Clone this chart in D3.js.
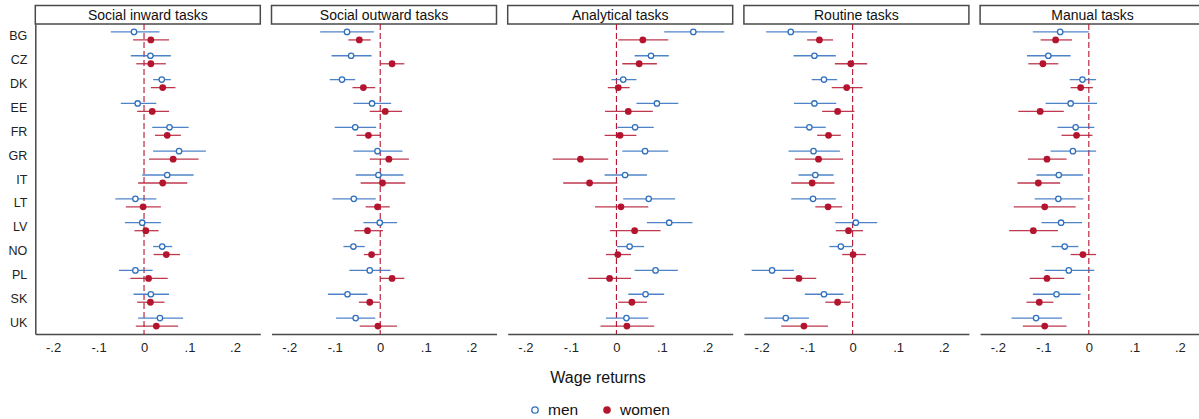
<!DOCTYPE html>
<html>
<head>
<meta charset="utf-8">
<script src="https://cdn.jsdelivr.net/npm/d3@7"></script>
<style>
  html, body { margin: 0; padding: 0; background: #fff; }
  svg { display: block; font-family: "Liberation Sans", Arial, Helvetica, sans-serif; }
</style>
</head>
<body>
<svg id="chart" width="1199" height="419"></svg>
<script>
// Countries (rows) and task panels
const countries = ["BG", "CZ", "DK", "EE", "FR", "GR", "IT", "LT", "LV", "NO", "PL", "SK", "UK"];
const tasks = ["Social inward tasks", "Social outward tasks", "Analytical tasks", "Routine tasks", "Manual tasks"];
const xTicks = [-0.2, -0.1, 0, 0.1, 0.2];
const xTickLabels = ["-.2", "-.1", "0", ".1", ".2"];
const sexes = ["men", "women"];

// Estimates as [coefficient, lower CI, upper CI], one row per country
const socialInwardMen = [
  [-0.022, -0.073, 0.034], [0.014, -0.029, 0.059], [0.039, 0.020, 0.059], [-0.014, -0.051, 0.027],
  [0.056, 0.018, 0.098], [0.077, 0.020, 0.136], [0.051, -0.004, 0.109], [-0.019, -0.063, 0.027],
  [-0.004, -0.042, 0.037], [0.040, 0.020, 0.062], [-0.019, -0.055, 0.019], [0.015, -0.023, 0.055],
  [0.035, -0.013, 0.086]
];
const socialInwardWomen = [
  [0.015, -0.024, 0.055], [0.015, -0.017, 0.048], [0.041, 0.015, 0.069], [0.018, -0.015, 0.055],
  [0.051, 0.024, 0.081], [0.064, 0.011, 0.120], [0.041, -0.013, 0.095], [-0.002, -0.040, 0.037],
  [0.004, -0.021, 0.032], [0.049, 0.021, 0.079], [0.010, -0.030, 0.052], [0.014, -0.015, 0.045],
  [0.027, -0.018, 0.075]
];
const socialOutwardMen = [
  [-0.073, -0.132, -0.014], [-0.064, -0.107, -0.019], [-0.084, -0.111, -0.055], [-0.018, -0.059, 0.024],
  [-0.055, -0.100, -0.009], [-0.006, -0.059, 0.049], [-0.004, -0.054, 0.051], [-0.058, -0.105, -0.010],
  [-0.001, -0.037, 0.037], [-0.059, -0.081, -0.034], [-0.023, -0.068, 0.023], [-0.072, -0.115, -0.028],
  [-0.054, -0.097, -0.011]
];
const socialOutwardWomen = [
  [-0.046, -0.070, -0.021], [0.026, 0.000, 0.053], [-0.037, -0.061, -0.011], [0.011, -0.023, 0.048],
  [-0.026, -0.052, 0.000], [0.019, -0.023, 0.063], [0.005, -0.043, 0.055], [-0.006, -0.032, 0.021],
  [-0.028, -0.057, 0.006], [-0.019, -0.036, -0.001], [0.026, 0.000, 0.053], [-0.023, -0.047, 0.000],
  [-0.005, -0.045, 0.037]
];
const analyticalMen = [
  [0.169, 0.105, 0.237], [0.076, 0.040, 0.115], [0.015, -0.011, 0.044], [0.089, 0.044, 0.136],
  [0.041, 0.002, 0.082], [0.063, 0.013, 0.114], [0.019, -0.026, 0.067], [0.071, 0.015, 0.129],
  [0.116, 0.067, 0.167], [0.029, 0.001, 0.061], [0.086, 0.040, 0.135], [0.064, 0.026, 0.105],
  [0.022, -0.023, 0.070]
];
const analyticalWomen = [
  [0.058, 0.004, 0.114], [0.050, 0.013, 0.089], [0.004, -0.019, 0.029], [0.026, -0.025, 0.080],
  [0.008, -0.026, 0.044], [-0.079, -0.140, -0.018], [-0.059, -0.117, 0.002], [0.010, -0.047, 0.070],
  [0.040, -0.014, 0.097], [0.003, -0.023, 0.032], [-0.015, -0.062, 0.032], [0.034, 0.004, 0.067],
  [0.023, -0.035, 0.083]
];
const routineMen = [
  [-0.136, -0.190, -0.078], [-0.084, -0.130, -0.037], [-0.063, -0.090, -0.034], [-0.084, -0.129, -0.036],
  [-0.095, -0.128, -0.059], [-0.086, -0.141, -0.028], [-0.082, -0.119, -0.042], [-0.087, -0.135, -0.037],
  [0.007, -0.038, 0.054], [-0.026, -0.051, 0.000], [-0.177, -0.222, -0.129], [-0.063, -0.105, -0.020],
  [-0.147, -0.194, -0.096]
];
const routineWomen = [
  [-0.073, -0.100, -0.043], [-0.004, -0.039, 0.032], [-0.013, -0.046, 0.022], [-0.033, -0.067, 0.004],
  [-0.053, -0.078, -0.026], [-0.075, -0.127, -0.021], [-0.089, -0.135, -0.040], [-0.054, -0.082, -0.023],
  [-0.009, -0.037, 0.023], [0.001, -0.023, 0.029], [-0.118, -0.154, -0.080], [-0.033, -0.060, -0.005],
  [-0.107, -0.157, -0.054]
];
const manualMen = [
  [-0.063, -0.123, 0.000], [-0.089, -0.136, -0.040], [-0.014, -0.042, 0.016], [-0.040, -0.095, 0.018],
  [-0.029, -0.069, 0.012], [-0.035, -0.084, 0.016], [-0.066, -0.115, -0.013], [-0.067, -0.119, -0.012],
  [-0.061, -0.104, -0.015], [-0.053, -0.082, -0.023], [-0.044, -0.097, 0.012], [-0.071, -0.123, -0.018],
  [-0.116, -0.170, -0.059]
];
const manualWomen = [
  [-0.073, -0.106, -0.037], [-0.101, -0.133, -0.067], [-0.018, -0.040, 0.009], [-0.107, -0.155, -0.055],
  [-0.027, -0.060, 0.008], [-0.092, -0.134, -0.049], [-0.111, -0.157, -0.063], [-0.097, -0.165, -0.029],
  [-0.122, -0.175, -0.068], [-0.013, -0.040, 0.016], [-0.092, -0.130, -0.054], [-0.109, -0.137, -0.078],
  [-0.097, -0.145, -0.049]
];

const panelSeries = [
  [socialInwardMen, socialInwardWomen],
  [socialOutwardMen, socialOutwardWomen],
  [analyticalMen, analyticalWomen],
  [routineMen, routineWomen],
  [manualMen, manualWomen]
];

// Styling
const blue = "#2f6fbd";
const red = "#b3152f";
const axisColor = "#4a4a4a";

const svg = d3.select("#chart");
svg.append("rect").attr("width", 1199).attr("height", 419).attr("fill", "#fff");

const panelLeft = 35.3, panelStep = 236.2, panelWidth = 225;
const headerTop = 5.5, plotTop = 24, plotBottom = 334;

const y = d3.scalePoint().domain(countries).range([plotTop, plotBottom]).padding(0.5);
const offset = { men: -4, women: 4 };
const colorOf = { men: blue, women: red };

tasks.forEach((task, p) => {
  const left = panelLeft + p * panelStep;
  const x = d3.scaleLinear().domain([-0.239, 0.2556]).range([left, left + panelWidth]);
  const g = svg.append("g");

  // Panel header
  g.append("rect")
    .attr("x", left).attr("y", headerTop)
    .attr("width", panelWidth).attr("height", plotTop - headerTop)
    .attr("fill", "#fff").attr("stroke", axisColor).attr("stroke-width", 1.5);
  g.append("text")
    .attr("x", left + panelWidth / 2).attr("y", (headerTop + plotTop) / 2)
    .attr("dy", "0.35em").attr("text-anchor", "middle")
    .attr("font-size", 14).attr("fill", "#111")
    .text(task);

  // x axis
  const xAxis = d3.axisBottom(x)
    .tickValues(xTicks)
    .tickFormat((d, i) => xTickLabels[i])
    .tickSize(0).tickSizeOuter(0).tickPadding(9);
  const ax = g.append("g").attr("transform", `translate(0,${plotBottom})`).call(xAxis);
  ax.select(".domain").attr("stroke", axisColor).attr("stroke-width", 1.5);
  ax.selectAll("text").attr("font-size", 13).attr("fill", "#222")
    .style("font-family", '"Liberation Sans", Arial, sans-serif');

  // y axis with country labels on the first panel only
  if (p === 0) {
    const yAxis = d3.axisLeft(y).tickSize(0).tickSizeOuter(0).tickPadding(8);
    const ay = g.append("g").attr("transform", `translate(${left},0)`).call(yAxis);
    ay.select(".domain").attr("stroke", axisColor).attr("stroke-width", 1.5);
    ay.selectAll("text").attr("font-size", 12.5).attr("fill", "#222")
      .style("font-family", '"Liberation Sans", Arial, sans-serif');
  }

  // Zero reference line
  g.append("line")
    .attr("x1", x(0)).attr("x2", x(0))
    .attr("y1", plotTop).attr("y2", plotBottom)
    .attr("stroke", red).attr("stroke-width", 1.1)
    .attr("stroke-dasharray", "6,3");

  // Confidence intervals and point estimates
  sexes.forEach((sex, s) => {
    const series = panelSeries[p][s];
    const rows = series.map((d, i) => ({ country: countries[i], est: d[0], lo: d[1], hi: d[2] }));
    g.selectAll(null).data(rows).enter().append("line")
      .attr("x1", d => x(d.lo)).attr("x2", d => x(d.hi))
      .attr("y1", d => y(d.country) + offset[sex])
      .attr("y2", d => y(d.country) + offset[sex])
      .attr("stroke", colorOf[sex]).attr("stroke-width", 1.3)
      .attr("stroke-opacity", 0.85);
    const pts = g.selectAll(null).data(rows).enter().append("circle")
      .attr("cx", d => x(d.est))
      .attr("cy", d => y(d.country) + offset[sex]);
    if (sex === "men") {
      pts.attr("r", 2.7).attr("fill", "#fff").attr("stroke", blue).attr("stroke-width", 1.3);
    } else {
      pts.attr("r", 3.4).attr("fill", red);
    }
  });
});

// Shared x-axis title
svg.append("text")
  .attr("x", 598).attr("y", 377).attr("dy", "0.35em")
  .attr("text-anchor", "middle").attr("font-size", 16).attr("fill", "#111")
  .text("Wage returns");

// Legend
const legend = svg.append("g");
legend.append("circle").attr("cx", 535).attr("cy", 410).attr("r", 3.2)
  .attr("fill", "#fff").attr("stroke", blue).attr("stroke-width", 1.3);
legend.append("text").attr("x", 548).attr("y", 410).attr("dy", "0.35em")
  .attr("font-size", 15.5).attr("fill", "#111").text("men");
legend.append("circle").attr("cx", 607).attr("cy", 410).attr("r", 3.8).attr("fill", red);
legend.append("text").attr("x", 620).attr("y", 410).attr("dy", "0.35em")
  .attr("font-size", 15.5).attr("fill", "#111").text("women");
</script>
</body>
</html>
